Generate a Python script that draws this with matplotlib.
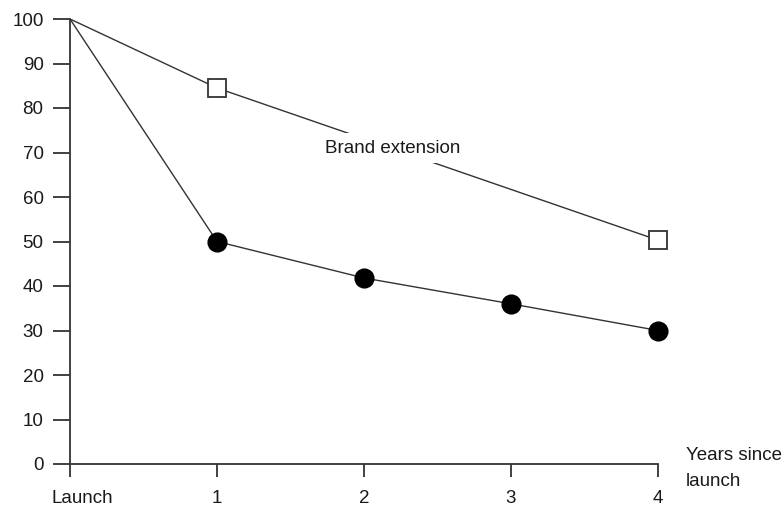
import numpy as np
import matplotlib.pyplot as plt
from matplotlib.transforms import ScaledTranslation

plt.rcParams['font.family'] = ['Liberation Sans', 'DejaVu Sans']

# data
years = [0, 1, 2, 3, 4]
tick_labels = ['Launch', '1', '2', '3', '4']
ext_years = [0, 1, 4]
ext_values = [100, 84.5, 50.3]
new_values = [100, 50, 41.8, 36, 30]

fig = plt.figure(figsize=(7.84, 5.09), dpi=100)
ax = fig.add_axes([70 / 784, 45 / 509, 588 / 784, 445 / 509])

line_col = '#333333'
txt_col = '#1a1a1a'
fs = 13.5

ax.plot(ext_years, ext_values, color=line_col, lw=1.0, zorder=2)
ax.plot(ext_years[1:], ext_values[1:], ls='none', marker='s', ms=13.5,
        mfc='white', mec=line_col, mew=1.3, clip_on=False, zorder=4)
ax.plot(years, new_values, color=line_col, lw=1.0, zorder=2)
ax.plot(years[1:], new_values[1:], ls='none', marker='o', ms=13.5,
        mfc='black', mec='black', clip_on=False, zorder=4)

ax.text(1.735, 71.0, 'Brand extension', fontsize=fs, ha='left', va='center',
        color=txt_col, zorder=3,
        bbox=dict(facecolor='white', edgecolor='none', pad=5))

ax.text(4.19, 2.0, 'Years since', fontsize=fs, ha='left', va='center',
        color=txt_col, clip_on=False)
ax.text(4.19, -3.9, 'launch', fontsize=fs, ha='left', va='center',
        color=txt_col, clip_on=False)

ax.set_xlim(0, 4)
ax.set_ylim(0, 100)
ax.set_xticks(years)
ax.set_xticklabels(tick_labels)
ax.set_yticks(np.arange(0, 101, 10))

for s in ['top', 'right']:
    ax.spines[s].set_visible(False)
for s in ['left', 'bottom']:
    ax.spines[s].set_color(line_col)
    ax.spines[s].set_linewidth(1.3)

ax.tick_params(axis='y', direction='out', length=12, width=1.3,
               color=line_col, labelsize=fs, pad=7, labelcolor=txt_col)
ax.tick_params(axis='x', direction='out', length=9.5, width=1.3,
               color=line_col, labelsize=fs, pad=9, labelcolor=txt_col)

# the "Launch" label sits a little to the right of its tick
lab = ax.get_xticklabels()[0]
lab.set_transform(lab.get_transform() + ScaledTranslation(12 / 100, 0, fig.dpi_scale_trans))

fig.savefig('out.png', dpi=100)
